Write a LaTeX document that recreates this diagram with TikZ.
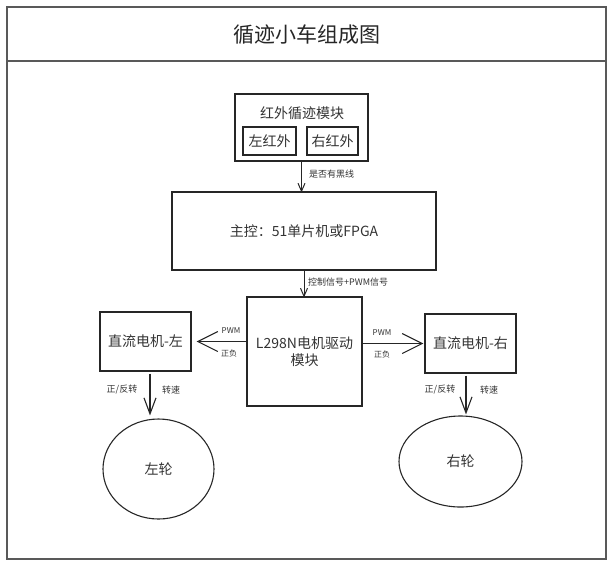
\documentclass[tikz,border=0pt]{standalone}
\usepackage{fontspec}
\setmainfont{Noto Sans CJK SC}
\usetikzlibrary{arrows.meta,shapes.geometric}
\tikzset{
  box/.style={draw=black!85,line width=1.1pt,rectangle,inner sep=0pt,font=\fontsize{14}{16.5}\selectfont,text=black!80},
  wheel/.style={draw=black!85,line width=1.1pt,ellipse,inner sep=0pt,font=\fontsize{14}{16.5}\selectfont,text=black!80},
  frame/.style={draw=black!65,line width=1.8pt},
  lbl/.style={font=\fontsize{9}{11}\selectfont,text=black!80,inner sep=0pt},
  arrh/.style={draw=black!85,line width=1.1pt,-{Straight Barb[length=20pt,width=20pt,line width=1.1pt]}},
  arrv/.style={draw=black!85,line width=1.1pt,-{Straight Barb[length=16pt,width=12pt,line width=1.1pt]}},
  arrsm/.style={draw=black!85,line width=1pt,-{Straight Barb[length=8pt,width=7pt,line width=1pt]}},
}
\begin{document}
\begin{tikzpicture}[x=1pt,y=-1pt]
\useasboundingbox (0,0) rectangle (613,566);
% frame
\draw[frame] (7,7) rectangle (606,61);
\draw[frame] (7,61) rectangle (606,559);
\node[font=\fontsize{21}{24}\selectfont,text=black!85] (title) at (307,35) {循迹小车组成图};
% IR module
\node[box,minimum width=133pt,minimum height=67pt] (ir) at (301.5,127.5) {};
\node[font=\fontsize{14}{16.5}\selectfont,text=black!80] (irt) at (302,113) {红外循迹模块};
\node[box,minimum width=53pt,minimum height=28pt] (irl) at (269.5,141) {左红外};
\node[box,minimum width=51pt,minimum height=28pt] (irr) at (332.5,141) {右红外};
% main controller
\node[box,minimum width=264pt,minimum height=78pt] (main) at (304,231) {主控：51单片机或FPGA};
% driver
\node[box,minimum width=115pt,minimum height=109pt,align=center] (drv) at (304.5,351.5) {L298N电机驱动\\模块};
% motors
\node[box,minimum width=91pt,minimum height=59pt] (lm) at (145.5,341.5) {直流电机-左};
\node[box,minimum width=91pt,minimum height=59pt] (rm) at (470.5,343.5) {直流电机-右};
% wheels
\node[wheel,minimum width=111pt,minimum height=100pt] (lw) at (158.5,469) {左轮};
\node[wheel,minimum width=123pt,minimum height=91pt] (rw) at (460.5,461.5) {右轮};
% connectors
\draw[arrsm] (ir.south) -- ([yshift=-1pt]ir.south |- main.north);
\node[lbl,anchor=west] (l1) at (309,174) {是否有黑线};
\draw[arrsm] (main.south) -- ([yshift=-1pt]main.south |- drv.north);
\node[lbl,anchor=west] (l2) at (308,282) {控制信号+PWM信号};
\draw[arrh,shorten >=5pt] (drv.west |- lm.east) -- (lm.east);
\node[lbl,font=\fontsize{8}{10}\selectfont] (l3) at (231,331) {PWM};
\node[lbl,font=\fontsize{8}{10}\selectfont] (l4) at (229,353) {正负};
\draw[arrh,shorten >=1pt] (drv.east |- rm.west) -- (rm.west);
\node[lbl,font=\fontsize{8}{10}\selectfont] (l5) at (382,333) {PWM};
\node[lbl,font=\fontsize{8}{10}\selectfont] (l6) at (382,354) {正负};
\draw[arrv,shorten <=2pt,shorten >=3pt] ([xshift=4.5pt]lm.south) -- ([xshift=4.5pt]lm.south |- lw.north);
\node[lbl] (l7) at (122,390) {正/反转};
\node[lbl] (l8) at (171,390) {转速};
\draw[arrv,shorten <=2pt,shorten >=1pt] ([xshift=-4.5pt]rm.south) -- ([xshift=-4.5pt]rm.south |- rw.north);
\node[lbl] (l9) at (440,390) {正/反转};
\node[lbl] (l10) at (489,390) {转速};
\end{tikzpicture}
\end{document}
